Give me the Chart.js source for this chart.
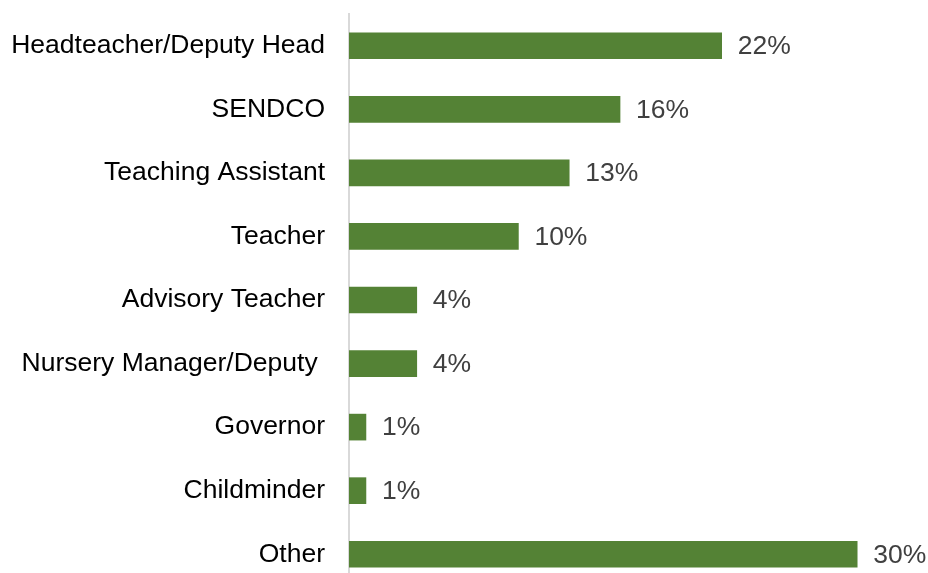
<!DOCTYPE html>
<html>
<head>
<meta charset="utf-8">
<script src="https://cdn.jsdelivr.net/npm/chart.js@4.4.0/dist/chart.umd.min.js"></script>
<style>
  html, body { margin: 0; padding: 0; background: #fff; overflow: hidden; }
  #wrap { width: 928px; height: 600px; }
</style>
</head>
<body>
<div id="wrap"><canvas id="roles" width="928" height="600"></canvas></div>
<script>
// chart data
const roles = ['Headteacher/Deputy Head', 'SENDCO', 'Teaching Assistant', 'Teacher',
  'Advisory Teacher', 'Nursery Manager/Deputy ', 'Governor', 'Childminder', 'Other'];
const shares = [22, 16, 13, 10, 4, 4, 1, 1, 30];

const FONT = '"Liberation Sans", Arial, sans-serif';

// value labels at the end of each bar
const valueLabels = {
  id: 'valueLabels',
  afterDatasetsDraw(chart) {
    const ctx = chart.ctx;
    const meta = chart.getDatasetMeta(0);
    ctx.save();
    ctx.font = '26.5px ' + FONT;
    ctx.fillStyle = '#404040';
    ctx.textAlign = 'left';
    ctx.textBaseline = 'middle';
    meta.data.forEach((bar, i) => {
      ctx.fillText(shares[i] + '%', bar.x + 16, bar.y + 1);
    });
    ctx.restore();
  }
};

new Chart(document.getElementById('roles'), {
  type: 'bar',
  data: {
    labels: roles,
    datasets: [{
      data: shares,
      backgroundColor: '#548235',
      barThickness: 26
    }]
  },
  options: {
    indexAxis: 'y',
    responsive: false,
    animation: false,
    layout: { padding: { top: 14, bottom: 14, right: 20, left: 0 } },
    plugins: {
      legend: { display: false },
      tooltip: { enabled: false }
    },
    scales: {
      x: {
        display: false,
        min: 0,
        max: 33
      },
      y: {
        afterFit(scale) {
          scale.width = 349;
          // no extra room above/below for the tick labels
          scale.paddingTop = 0;
          scale.paddingBottom = 0;
        },
        grid: { display: true, drawOnChartArea: false, drawTicks: false, color: 'rgba(0,0,0,0)' },
        border: { display: true, color: '#d9d9d9', width: 2 },
        ticks: {
          padding: 24,
          color: '#000',
          font: { family: FONT, size: 26.5 }
        }
      }
    }
  },
  plugins: [valueLabels]
});
</script>
</body>
</html>
